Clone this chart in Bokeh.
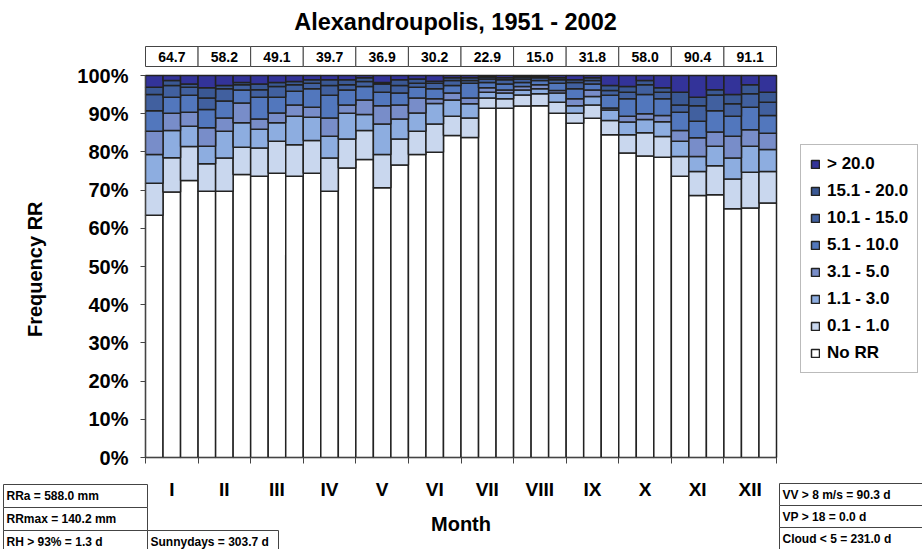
from bokeh.plotting import figure
from bokeh.models import (Range1d, FixedTicker, Legend, LegendItem, BoxAnnotation,
                          Label, ColumnDataSource, PrintfTickFormatter)
from bokeh.embed import file_html
from bokeh.resources import INLINE

# ---------------- data (percent of days per dekad) ----------------
months = ["I", "II", "III", "IV", "V", "VI", "VII", "VIII", "IX", "X", "XI", "XII"]
monthly_rr = [64.7, 58.2, 49.1, 39.7, 36.9, 30.2, 22.9, 15.0, 31.8, 58.0, 90.4, 91.1]

classes = ["No RR", "0.1 - 1.0", "1.1 - 3.0", "3.1 - 5.0", "5.1 - 10.0",
           "10.1 - 15.0", "15.1 - 20.0", "> 20.0"]
colors = ["#FFFFFF", "#C9D7EE", "#8DADE0", "#788DC9", "#5277BD",
          "#41609F", "#3A5894", "#333399"]

no_rr = [63.4, 69.5, 72.5, 69.7, 69.7, 74.1, 73.6, 74.4, 73.6, 74.4, 69.7, 75.8,
         78.0, 70.6, 76.6, 79.3, 79.9, 84.3, 83.8, 91.4, 91.4, 92.0, 92.1, 90.1,
         87.5, 88.8, 84.5, 79.7, 78.9, 78.6, 73.6, 68.6, 68.8, 65.1, 65.3, 66.6]
rr_0_1 = [8.4, 9.0, 8.9, 7.2, 8.7, 7.1, 7.4, 8.4, 8.3, 8.6, 8.7, 7.6,
          7.6, 8.7, 6.8, 6.1, 7.4, 5.0, 5.1, 2.7, 2.5, 2.9, 3.1, 2.9,
          2.6, 3.5, 3.7, 4.8, 6.1, 5.4, 5.2, 6.3, 7.6, 7.8, 9.4, 8.3]
rr_1_3 = [7.5, 7.1, 5.3, 4.6, 7.0, 6.4, 4.9, 4.8, 7.4, 6.1, 5.7, 6.7,
          4.2, 8.0, 5.2, 4.8, 5.4, 4.3, 3.7, 1.5, 1.5, 1.3, 1.3, 2.4,
          2.0, 2.2, 2.8, 3.3, 3.5, 3.9, 4.0, 3.9, 5.1, 5.5, 6.8, 5.7]
rr_3_5 = [6.1, 4.5, 3.7, 4.8, 3.5, 5.2, 2.7, 2.6, 3.0, 2.6, 4.8, 2.2,
          3.8, 4.8, 3.7, 3.9, 1.2, 1.8, 1.5, 1.2, 0.8, 0.9, 1.1, 0.7,
          1.8, 1.7, 0.5, 1.5, 1.5, 1.6, 2.8, 4.9, 3.7, 5.7, 4.3, 4.3]
rr_5_10 = [5.4, 4.2, 4.4, 4.8, 4.4, 3.4, 5.7, 4.1, 3.6, 4.8, 5.9, 3.9,
           3.5, 3.5, 3.1, 2.8, 2.6, 2.0, 3.9, 1.4, 1.6, 1.1, 1.1, 1.9,
           2.6, 1.6, 3.3, 4.6, 5.0, 4.4, 4.8, 4.3, 5.6, 5.2, 5.9, 4.6]
rr_10_15 = [4.2, 3.1, 2.1, 3.0, 3.2, 1.4, 2.0, 2.8, 1.7, 1.5, 2.6, 1.4,
            1.3, 2.2, 2.0, 1.1, 1.5, 1.3, 0.7, 0.9, 1.1, 0.9, 0.7, 0.9,
            1.7, 0.9, 1.3, 1.7, 2.6, 1.7, 1.9, 4.1, 4.1, 3.3, 3.5, 3.5]
rr_15_20 = [1.9, 1.3, 0.9, 2.7, 0.9, 0.6, 1.5, 1.1, 0.8, 0.9, 1.5, 1.3,
            1.0, 0.4, 1.5, 1.1, 0.5, 0.7, 0.7, 0.5, 0.5, 0.5, 0.3, 0.5,
            0.7, 0.7, 1.3, 1.5, 1.1, 1.2, 3.3, 2.2, 1.4, 2.4, 2.4, 2.6]
rr_gt_20 = [3.1, 1.3, 2.2, 3.2, 2.6, 1.8, 2.2, 1.8, 1.6, 1.1, 1.1, 1.1,
            0.6, 1.8, 1.1, 0.9, 1.5, 0.6, 0.6, 0.4, 0.6, 0.4, 0.3, 0.6,
            1.1, 0.6, 2.6, 2.9, 1.3, 3.2, 4.4, 5.7, 3.7, 5.0, 2.4, 4.4]

left_notes = ["RRa = 588.0 mm", "RRmax = 140.2 mm", "RH > 93% = 1.3 d"]
sunny_note = "Sunnydays = 303.7 d"
right_notes = ["VV > 8 m/s = 90.3 d", "VP > 18 = 0.0 d", "Cloud < 5  = 231.0 d"]
title_text = "Alexandroupolis, 1951 - 2002"

# ---------------- figure ----------------
FONT = "Liberation Sans"
W, H = 922, 549
# plot area in page pixels (bars): x 145..776, y 75 (100%) .. 457 (0%)
FL, FR, FT, FB = 145, 776, 75, 457


def X(px):
    return (px - FL) / (FR - FL) * 12 - 0.5


def Y(py):
    return (FB - py) / (FB - FT) * 100


p = figure(width=W, height=H, output_backend="svg", toolbar_location=None,
           x_range=Range1d(X(0), X(W)), y_range=Range1d(Y(H), Y(0)), min_border=0)
p.outline_line_color = None
p.xgrid.visible = False
p.ygrid.visible = False
p.background_fill_color = "white"
p.border_fill_color = "white"

keys = ["norr", "r01", "r13", "r35", "r510", "r1015", "r1520", "r20"]
xs = [(k - 1) / 3 for k in range(36)]
src = ColumnDataSource(dict(x=xs, norr=no_rr, r01=rr_0_1, r13=rr_1_3, r35=rr_3_5,
                            r510=rr_5_10, r1015=rr_10_15, r1520=rr_15_20, r20=rr_gt_20))
rends = p.vbar_stack(keys, x="x", width=1 / 3, source=src, fill_color=colors,
                     line_color="#222222", line_width=1.5)

# axes (fixed inside the full-size frame)
ya = p.yaxis[0]
ya.fixed_location = -0.5
ya.bounds = (0, 100)
ya.ticker = FixedTicker(ticks=list(range(0, 101, 10)))
ya.formatter = PrintfTickFormatter(format="%d%%")
ya.major_label_text_font = FONT
ya.major_label_text_font_style = "bold"
ya.major_label_text_font_size = "20px"
ya.major_label_text_color = "black"
ya.major_tick_out = 5
ya.major_tick_in = 0
ya.minor_tick_out = 0
ya.minor_tick_in = 0
ya.major_label_standoff = 12
ya.axis_line_color = "#444444"
ya.major_tick_line_color = "#444444"
ya.axis_label = "Frequency  RR"
ya.axis_label_text_font = FONT
ya.axis_label_text_font_style = "bold"
ya.axis_label_text_font_size = "20px"
ya.axis_label_text_color = "black"
ya.axis_label_standoff = 28

xa = p.xaxis[0]
xa.fixed_location = 0
xa.bounds = (-0.5, 11.5)
xa.ticker = FixedTicker(ticks=list(range(12)), minor_ticks=[m - 0.5 for m in range(13)])
xa.major_label_overrides = {i: m for i, m in enumerate(months)}
xa.major_label_text_font = FONT
xa.major_label_text_font_style = "bold"
xa.major_label_text_font_size = "19px"
xa.major_label_text_color = "black"
xa.major_tick_line_color = None
xa.major_tick_out = 0
xa.major_tick_in = 0
xa.minor_tick_out = 6
xa.minor_tick_in = 0
xa.minor_tick_line_color = "#444444"
xa.major_label_standoff = 15
xa.axis_line_color = "#444444"
xa.axis_label = "Month"
xa.axis_label_text_font = FONT
xa.axis_label_text_font_style = "bold"
xa.axis_label_text_font_size = "20px"
xa.axis_label_text_color = "black"
xa.axis_label_standoff = 10

# legend
items = [LegendItem(label=classes[i], renderers=[rends[i]]) for i in range(7, -1, -1)]
legend = Legend(items=items, location=(800, H - 373),
                border_line_color="#777777", border_line_width=1,
                background_fill_color="white", background_fill_alpha=1,
                padding=9, spacing=7, margin=0,
                label_height=20, glyph_height=10, glyph_width=10, label_standoff=7,
                label_text_font=FONT, label_text_font_style="bold",
                label_text_font_size="17px", label_text_color="black")
p.add_layout(legend)


def box(l, r, t, b):
    p.add_layout(BoxAnnotation(left=X(l), right=X(r), top=Y(t), bottom=Y(b),
                               fill_color="white", fill_alpha=1,
                               line_color="#444444", line_width=1, line_alpha=1))


def txt(x, y, s, size, align="left"):
    p.add_layout(Label(x=x, y=y, text=s, text_font=FONT, text_font_style="bold",
                       text_font_size=size, text_color="black",
                       text_align=align, text_baseline="middle"))


# title
txt(X(455), Y(21), title_text, "23.5px", "center")

# monthly totals row above the bars
for m, v in enumerate(monthly_rr):
    p.add_layout(BoxAnnotation(left=m - 0.5, right=m + 0.5, top=Y(46), bottom=Y(66),
                               fill_color="white", fill_alpha=1,
                               line_color="#444444", line_width=1, line_alpha=1))
    txt(m, Y(56), f"{v:.1f}", "14px", "center")

# note boxes at bottom
rows = [(484, 507), (507, 530), (530, 553)]
for (t, b), s in zip(rows, left_notes):
    box(3, 147, t, b)
    txt(X(6), Y((t + b) / 2), s, "12px")
box(147, 278, 530, 553)
txt(X(150), Y(541.5), sunny_note, "12px")

rrows = [(483, 505), (505, 527), (527, 550)]
for (t, b), s in zip(rrows, right_notes):
    box(779, 925, t, b)
    txt(X(782), Y((t + b) / 2), s, "12px")

open("out.html", "w").write(file_html(p, INLINE))
